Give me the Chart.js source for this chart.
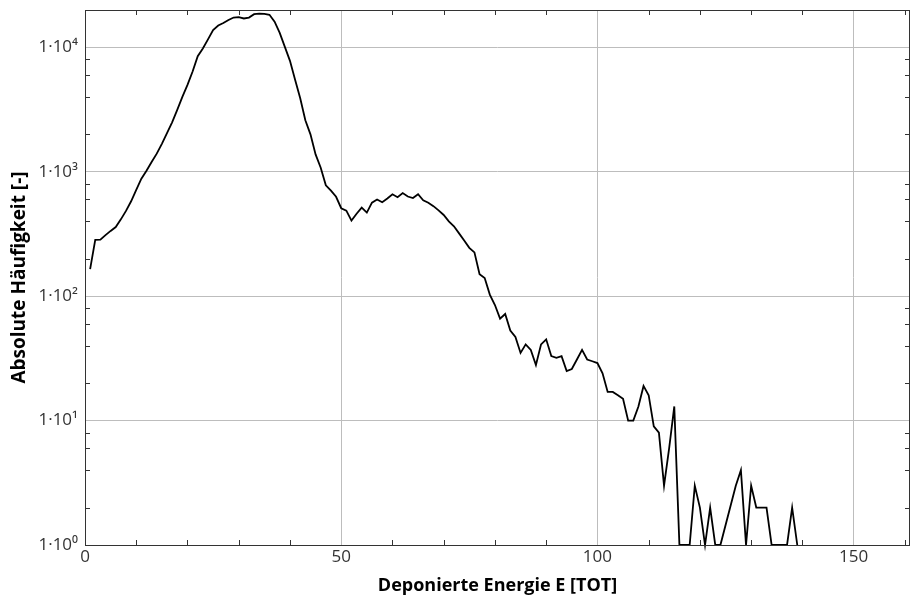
<!DOCTYPE html>
<html>
<head>
<meta charset="utf-8">
<script src="https://cdn.jsdelivr.net/npm/chart.js@4/dist/chart.umd.min.js"></script>
<style>
  html, body { margin: 0; padding: 0; background: #fff; }
  #wrap { width: 911px; height: 597px; }
</style>
</head>
<body>
<div id="wrap"><canvas id="spectrum"></canvas></div>
<script>
// Deponierte Energie (TOT-Bins)
const energy = [
  1, 2, 3, 4, 5, 6, 7, 8, 9, 10, 11, 12, 13, 14, 15, 16, 17, 18, 19, 20,
  21, 22, 23, 24, 25, 26, 27, 28, 29, 30, 31, 32, 33, 34, 35, 36, 37, 38, 39, 40,
  41, 42, 43, 44, 45, 46, 47, 48, 49, 50, 51, 52, 53, 54, 55, 56, 57, 58, 59, 60,
  61, 62, 63, 64, 65, 66, 67, 68, 69, 70, 71, 72, 73, 74, 75, 76, 77, 78, 79, 80,
  81, 82, 83, 84, 85, 86, 87, 88, 89, 90, 91, 92, 93, 94, 95, 96, 97, 98, 99, 100,
  101, 102, 103, 104, 105, 106, 107, 108, 109, 110, 111, 112, 113, 114, 115, 116, 117, 118, 119, 120,
  121, 122, 123, 124, 127, 128, 129, 130, 131, 132, 133, 134, 135, 136, 137, 138, 139
];

// Absolute Häufigkeit je Bin
const counts = [
  165, 284, 285, 310, 335, 360, 415, 485, 580, 715, 880, 1020, 1200, 1400, 1680, 2050, 2500, 3150, 4000, 5000,
  6400, 8500, 9800, 11600, 13800, 15000, 15700, 16600, 17400, 17500, 17100, 17400, 18500, 18700, 18600, 18300, 16100, 13100, 10100, 7800,
  5500, 3900, 2600, 2000, 1380, 1080, 780, 705, 630, 510, 488, 405, 460, 515, 470, 565, 600, 570, 610, 660,
  625, 675, 633, 615, 660, 590, 565, 530, 490, 450, 400, 365, 320, 280, 245, 225, 150, 140, 103, 85,
  66, 72, 53, 47, 35, 41, 37, 28, 41, 45, 33, 32, 33, 25, 26, 31, 37, 31, 30, 29,
  24, 17, 17, 16, 15, 10, 10, 13, 19, 16, 9, 8, 3, 6, 13, 1, 1, 1, 3, 2,
  1, 2, 1, 1, 3, 4, 1, 3, 2, 2, 2, 1, 1, 1, 1, 2, 1
];

// Achsen
const xTicks = [0, 50, 100, 150];
const yTicks = [1, 10, 100, 1000, 10000];
const yTickLabels = ['1·10⁰', '1·10¹', '1·10²', '1·10³', '1·10⁴'];

const FONT = "'Open Sans', 'DejaVu Sans', sans-serif";

// Rahmen und kleine Ticks nach innen
const frame = {
  id: 'frame',
  afterDraw(chart) {
    const { ctx, chartArea: a, scales } = chart;
    ctx.save();
    ctx.strokeStyle = '#333';
    ctx.lineWidth = 1;
    ctx.beginPath();
    for (let v = 10; v < 161; v += 10) {
      if (v % 50 === 0) continue;
      const px = Math.round(scales.x.getPixelForValue(v)) + 0.5;
      ctx.moveTo(px, a.bottom); ctx.lineTo(px, a.bottom - 5);
      ctx.moveTo(px, a.top); ctx.lineTo(px, a.top + 5);
    }
    for (let d = 1; d <= 10000; d *= 10) {
      for (const m of [2, 4, 6, 8]) {
        const v = m * d;
        if (v > scales.y.max) continue;
        const py = Math.round(scales.y.getPixelForValue(v)) + 0.5;
        ctx.moveTo(a.left, py); ctx.lineTo(a.left + 5, py);
        ctx.moveTo(a.right, py); ctx.lineTo(a.right - 5, py);
      }
    }
    ctx.stroke();
    ctx.strokeRect(Math.round(a.left) + 0.5, Math.round(a.top) + 0.5,
      Math.round(a.right - a.left) - 1, Math.round(a.bottom - a.top));
    ctx.restore();
  }
};

new Chart(document.getElementById('spectrum'), {
  type: 'line',
  data: {
    datasets: [{
      data: energy.map((e, i) => ({ x: e, y: counts[i] })),
      borderColor: '#000',
      borderWidth: 1.8,
      pointRadius: 0,
      tension: 0,
      fill: false,
      clip: false
    }]
  },
  options: {
    responsive: true,
    maintainAspectRatio: false,
    animation: false,
    layout: { padding: { top: 10, right: 1, left: 0, bottom: 0 } },
    plugins: { legend: { display: false }, tooltip: { enabled: false } },
    scales: {
      x: {
        type: 'linear',
        min: 0,
        max: 161,
        afterBuildTicks: s => { s.ticks = xTicks.map(v => ({ value: v })); },
        afterFit: s => { s.height = 52; s.paddingLeft = 0; s.paddingRight = 0; },
        grid: { color: '#bdbdbd', drawTicks: false },
        border: { display: false },
        ticks: { color: '#333', font: { family: FONT, size: 17 }, padding: 2, maxRotation: 0 },
        title: {
          display: true,
          text: 'Deponierte Energie E [TOT]',
          color: '#000',
          font: { family: FONT, size: 18, weight: 'bold' },
          padding: { top: 0, bottom: 0 }
        }
      },
      y: {
        type: 'logarithmic',
        min: 1,
        max: 20000,
        afterBuildTicks: s => { s.ticks = yTicks.map(v => ({ value: v })); },
        afterFit: s => { s.width = 85; s.paddingTop = 0; s.paddingBottom = 0; },
        grid: { color: '#bdbdbd', drawTicks: false },
        border: { display: false },
        ticks: {
          color: '#333',
          font: { family: FONT, size: 17 },
          padding: 7,
          callback: v => yTickLabels[yTicks.indexOf(v)] ?? ''
        },
        title: {
          display: true,
          text: 'Absolute Häufigkeit [-]',
          color: '#000',
          font: { family: FONT, size: 19, weight: 'bold' },
          padding: { top: 8, bottom: 0 }
        }
      }
    }
  },
  plugins: [frame]
});
</script>
</body>
</html>
